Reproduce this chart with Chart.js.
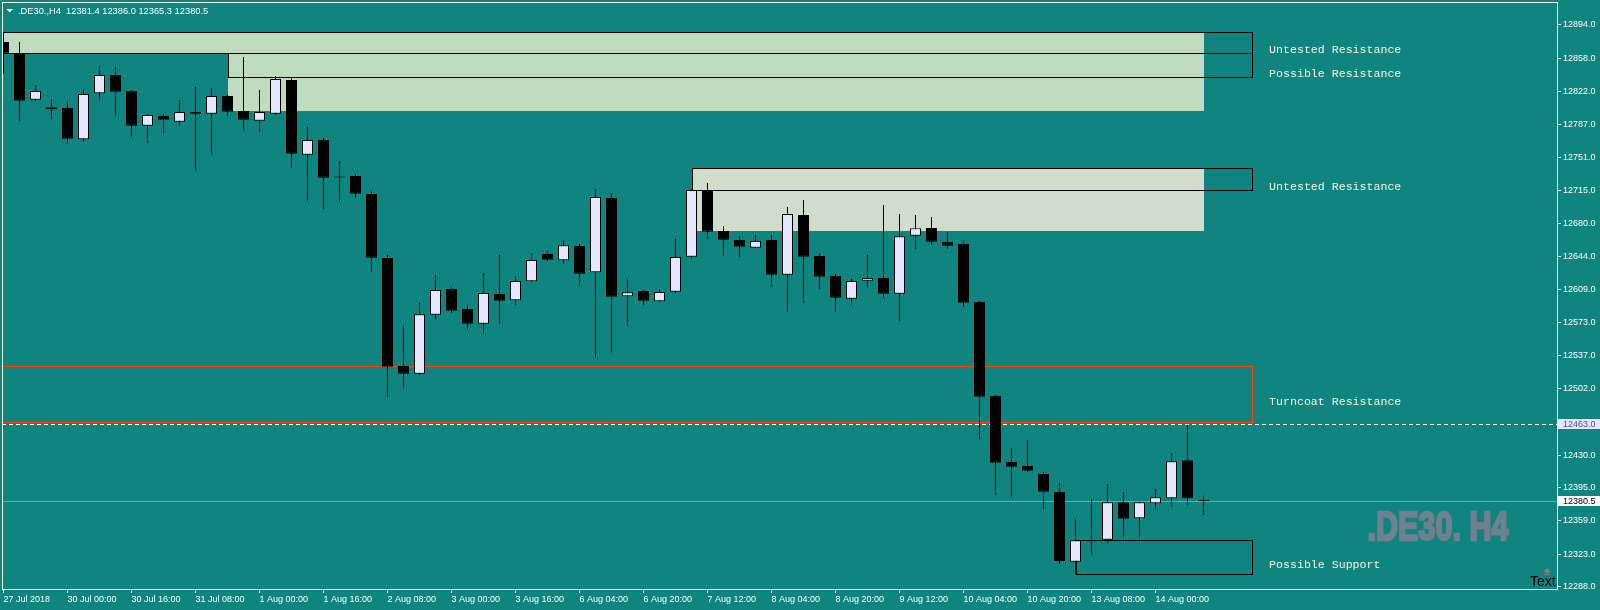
<!DOCTYPE html>
<html>
<head>
<meta charset="utf-8">
<script src="https://cdn.jsdelivr.net/npm/chart.js@4.4.1/dist/chart.umd.min.js"></script>
<style>
html, body { margin: 0; padding: 0; background: #10847e; overflow: hidden; }
canvas { display: block; }
</style>
</head>
<body>
<canvas id="grafica" width="1600" height="610"></canvas>
<script>
// 1. Datos de las velas (.DE30., H4)
const aperturas = [12875.7, 12863.5, 12813.4, 12803.1, 12804.5, 12770.7, 12820.3, 12840.1, 12822.8, 12785.4,
    12795.8, 12789.7, 12800.1, 12798.3, 12817.4, 12801.2, 12790.8, 12798.3, 12834.7, 12754.1,
    12769.9, 12729.9, 12731.1, 12711.7, 12642.6, 12526.1, 12517.8, 12581.5, 12609.2, 12587.6,
    12571.7, 12603.8, 12597.0, 12617.5, 12646.9, 12640.1, 12655.6, 12627.2, 12707.4, 12601.3,
    12607.0, 12595.9, 12606.3, 12644.0, 12716.0, 12671.8, 12662.0, 12653.7, 12662.0, 12624.6,
    12689.0, 12644.8, 12623.2, 12598.7, 12618.1, 12621.0, 12604.1, 12666.7, 12675.0, 12659.9,
    12657.7, 12595.2, 12493.7, 12422.5, 12418.2, 12409.6, 12390.2, 12315.0, 12338.1, 12338.7,
    12379.0, 12361.8, 12378.0, 12383.4, 12424.4, 12381.4];
const maximos = [12886.8, 12875.7, 12829.3, 12814.2, 12810.9, 12825.0, 12849.8, 12848.7, 12823.9, 12798.0,
    12798.0, 12813.1, 12827.1, 12826.0, 12818.5, 12859.5, 12823.9, 12839.0, 12836.8, 12784.0,
    12772.1, 12747.3, 12733.3, 12716.0, 12645.9, 12569.3, 12594.1, 12624.3, 12612.4, 12591.9,
    12626.4, 12645.9, 12623.2, 12648.0, 12651.3, 12662.0, 12657.7, 12717.1, 12712.8, 12621.0,
    12608.1, 12609.2, 12663.1, 12716.5, 12723.5, 12677.2, 12666.4, 12667.4, 12667.4, 12697.6,
    12705.2, 12648.0, 12625.4, 12620.0, 12645.9, 12699.8, 12690.1, 12689.0, 12686.9, 12670.7,
    12662.0, 12596.2, 12494.8, 12437.6, 12446.3, 12411.8, 12399.9, 12362.1, 12382.6, 12398.8,
    12390.2, 12379.5, 12393.4, 12432.2, 12463.0, 12386.0];
const minimos = [12841.9, 12790.8, 12812.3, 12792.9, 12765.9, 12768.1, 12813.4, 12796.1, 12772.4, 12767.0,
    12777.8, 12785.4, 12736.8, 12754.1, 12795.8, 12780.0, 12778.9, 12797.5, 12740.0, 12703.4,
    12695.8, 12703.4, 12707.7, 12627.8, 12493.0, 12502.7, 12516.7, 12577.1, 12583.6, 12565.3,
    12561.0, 12571.7, 12592.2, 12617.1, 12639.7, 12636.5, 12612.7, 12535.1, 12539.4, 12569.3,
    12592.2, 12595.5, 12605.2, 12643.0, 12663.5, 12645.1, 12644.0, 12653.3, 12611.7, 12584.7,
    12594.4, 12609.5, 12584.7, 12591.2, 12610.6, 12598.7, 12575.0, 12652.7, 12657.0, 12652.7,
    12590.1, 12447.7, 12387.3, 12384.0, 12412.1, 12372.2, 12312.8, 12301.4, 12322.5, 12334.4,
    12340.9, 12340.9, 12371.1, 12374.3, 12376.5, 12365.3];
const cierres = [12863.5, 12812.3, 12822.8, 12805.2, 12771.3, 12819.6, 12840.1, 12822.0, 12785.4, 12796.9,
    12791.8, 12800.1, 12798.3, 12817.4, 12800.5, 12791.8, 12800.1, 12835.7, 12755.2, 12769.9,
    12729.3, 12729.5, 12712.0, 12643.0, 12525.4, 12517.8, 12581.9, 12608.1, 12585.8, 12571.7,
    12604.9, 12596.6, 12617.8, 12640.5, 12640.8, 12656.3, 12625.7, 12708.4, 12600.9, 12605.6,
    12596.6, 12605.9, 12643.7, 12716.0, 12671.0, 12662.4, 12654.8, 12661.0, 12624.6, 12690.1,
    12644.0, 12622.5, 12599.8, 12617.8, 12621.0, 12604.1, 12666.0, 12674.7, 12660.2, 12655.9,
    12594.4, 12493.0, 12421.8, 12417.5, 12413.2, 12390.5, 12315.7, 12338.1, 12336.9, 12379.0,
    12361.4, 12379.0, 12384.4, 12423.3, 12383.4, 12380.5];

// Etiquetas del eje de tiempo (una cada 4 velas)
const etiquetasX = ['27 Jul 2018', '30 Jul 00:00', '30 Jul 16:00', '31 Jul 08:00', '1 Aug 00:00', '1 Aug 16:00',
    '2 Aug 08:00', '3 Aug 00:00', '3 Aug 16:00', '6 Aug 04:00', '6 Aug 20:00', '7 Aug 12:00', '8 Aug 04:00',
    '8 Aug 20:00', '9 Aug 12:00', '10 Aug 04:00', '10 Aug 20:00', '13 Aug 08:00', '14 Aug 00:00'];
const pasoEtiquetas = 4;

// Marcas del eje de precios
const ticksY = [12894, 12858, 12822, 12787, 12751, 12715, 12680, 12644, 12609, 12573, 12537, 12502,
    12430, 12395, 12359, 12323, 12288];

// Zonas (índice de vela inicial/final y precios)
const zonasRelleno = [
    { ini: -1, fin: 75, sup: 12886.8, inf: 12863.3 },
    { ini: 14, fin: 75, sup: 12863.3, inf: 12801.5 },
    { ini: 43, fin: 75, sup: 12739.4, inf: 12671.8 }
];
const zonasMarco = [
    { ini: -1, fin: 78, sup: 12886.8, inf: 12863.3 },
    { ini: 14, fin: 78, sup: 12863.3, inf: 12837.6 },
    { ini: 43, fin: 78, sup: 12739.4, inf: 12715.7 },
    { ini: -1, fin: 78, sup: 12526.1, inf: 12465.4 },
    { ini: 67, fin: 78, sup: 12338.1, inf: 12301.4 }
];
const textosZonas = ['Untested Resistance', 'Possible Resistance', 'Untested Resistance', 'Turncoat Resistance', 'Possible Support'];
const preciosTextos = [12867.0, 12841.1, 12719.5, 12487.3, 12311.4];
const velaTextos = 79.1;

const nivelDiscontinuo = 12463.0;
const simbolo = '.DE30.,H4';
const marcaAgua = '.DE30. H4';

// Rango visible
const xMin = -0.09375, xMax = 97.09375;
const yMin = 12285.5, yMax = 12918.8;

// Estilos
const COLOR_FONDO = '#10847e';
const COLOR_ALCISTA = '#e6e6fa';
const COLOR_BAJISTA = '#000000';
const coloresRelleno = ['#c0dcc0', '#c0dcc0', '#d2dccc'];
const coloresMarco = ['#000000', '#000000', '#000000', '#ff4500', '#000000'];

Chart.defaults.font.family = '"Liberation Sans", Arial, sans-serif';

// 2. Plugin para fondo, zonas, líneas y textos
const pluginGrafico = {
    id: 'grafico',
    beforeDraw(chart) {
        const ctx = chart.ctx;
        ctx.save();
        ctx.fillStyle = COLOR_FONDO;
        ctx.fillRect(0, 0, chart.width, chart.height);
        ctx.restore();
    },
    beforeDatasetsDraw(chart) {
        const { ctx, chartArea: a, scales: { x, y } } = chart;
        ctx.save();
        ctx.beginPath();
        ctx.rect(a.left + 1, a.top + 1, a.right - a.left - 1, a.bottom - a.top - 1);
        ctx.clip();

        zonasRelleno.forEach((z, k) => {
            const x0 = Math.round(x.getPixelForValue(z.ini));
            const x1 = Math.round(x.getPixelForValue(z.fin));
            const y0 = Math.round(y.getPixelForValue(z.sup));
            const y1 = Math.round(y.getPixelForValue(z.inf));
            ctx.fillStyle = coloresRelleno[k];
            ctx.fillRect(x0, y0, x1 - x0, y1 - y0);
        });

        ctx.lineWidth = 1;
        zonasMarco.forEach((z, k) => {
            const x0 = Math.round(x.getPixelForValue(z.ini));
            const x1 = Math.round(x.getPixelForValue(z.fin));
            const y0 = Math.round(y.getPixelForValue(z.sup));
            const y1 = Math.round(y.getPixelForValue(z.inf));
            ctx.strokeStyle = coloresMarco[k];
            ctx.strokeRect(x0 + 0.5, y0 + 0.5, x1 - x0, y1 - y0);
        });

        // línea discontinua del nivel
        const yd = Math.round(y.getPixelForValue(nivelDiscontinuo)) + 0.5;
        ctx.strokeStyle = '#ffffff';
        ctx.setLineDash([4, 3]);
        ctx.beginPath();
        ctx.moveTo(a.left, yd);
        ctx.lineTo(a.right, yd);
        ctx.stroke();
        ctx.setLineDash([]);

        // línea del precio actual
        const yb = Math.round(y.getPixelForValue(cierres[cierres.length - 1])) + 0.5;
        ctx.strokeStyle = '#64aeac';
        ctx.beginPath();
        ctx.moveTo(a.left, yb);
        ctx.lineTo(a.right, yb);
        ctx.stroke();
        ctx.restore();
    },
    afterDraw(chart) {
        const { ctx, chartArea: a, scales: { x, y } } = chart;
        ctx.save();

        // marco blanco
        ctx.strokeStyle = '#ffffff';
        ctx.lineWidth = 1;
        ctx.strokeRect(a.left + 0.5, a.top + 0.5, a.right - a.left, a.bottom - a.top);

        // cabecera
        const n = cierres.length - 1;
        ctx.fillStyle = '#ffffff';
        ctx.beginPath();
        ctx.moveTo(6.5, 9); ctx.lineTo(13, 9); ctx.lineTo(9.75, 12.5); ctx.closePath();
        ctx.fill();
        ctx.font = '9.3px "Liberation Sans", Arial, sans-serif';
        ctx.textBaseline = 'middle';
        ctx.textAlign = 'left';
        const cabecera = simbolo + '  ' + [aperturas[n], maximos[n], minimos[n], cierres[n]].map(v => v.toFixed(1)).join(' ');
        ctx.fillText(cabecera, 18, 11);

        // textos de zonas
        ctx.font = '11.6px "Liberation Mono", "Courier New", monospace';
        ctx.fillStyle = '#f4f4e6';
        const xt = x.getPixelForValue(velaTextos);
        textosZonas.forEach((t, k) => {
            ctx.fillText(t, xt, Math.round(y.getPixelForValue(preciosTextos[k])));
        });

        // marca de agua (condensada y gruesa)
        ctx.font = 'bold 41px "Liberation Sans", Arial, sans-serif';
        ctx.fillStyle = '#708090';
        ctx.strokeStyle = '#708090';
        ctx.lineWidth = 2.5;
        ctx.lineJoin = 'miter';
        ctx.textBaseline = 'alphabetic';
        const ancho = ctx.measureText(marcaAgua).width;
        ctx.save();
        ctx.translate(1367.5, 539.8);
        ctx.scale(141 / ancho, 1);
        ctx.fillText(marcaAgua, 0, 0);
        ctx.strokeText(marcaAgua, 0, 0);
        ctx.restore();

        // objeto "Text"
        ctx.fillStyle = '#7f7f7f';
        ctx.beginPath();
        ctx.arc(1547, 571, 2.5, 0, Math.PI * 2);
        ctx.fill();
        ctx.fillRect(1544, 574, 6, 1);
        ctx.fillStyle = '#000000';
        ctx.font = '14px "Liberation Sans", Arial, sans-serif';
        ctx.fillText('Text', 1530, 586);

        // etiquetas de precio en el eje
        ctx.font = '9px "Liberation Sans", Arial, sans-serif';
        ctx.textBaseline = 'middle';
        const etiquetaPrecio = (valor, fondo, texto) => {
            const yc = Math.round(y.getPixelForValue(valor));
            ctx.fillStyle = fondo;
            ctx.fillRect(a.right + 1, yc - 5, chart.width - a.right - 1, 10);
            ctx.fillStyle = texto;
            ctx.fillText(valor.toFixed(1), a.right + 6, yc + 0.5);
        };
        etiquetaPrecio(nivelDiscontinuo, '#e6e6fa', '#4b5580');
        etiquetaPrecio(cierres[n], '#ffffff', '#000000');
        ctx.restore();
    }
};

// 3. Construcción de la gráfica
const velas = aperturas.map((o, i) => ({ x: i, y: [o, cierres[i]] }));
const mechas = minimos.map((l, i) => ({ x: i, y: [l, maximos[i]] }));
const coloresCuerpo = aperturas.map((o, i) => cierres[i] >= o ? COLOR_ALCISTA : COLOR_BAJISTA);

const ejeComun = {
    grid: { offset: false, drawOnChartArea: false, drawTicks: true, tickLength: 4, color: '#ffffff', lineWidth: 1 },
    border: { display: false }
};

new Chart(document.getElementById('grafica').getContext('2d'), {
    type: 'bar',
    data: {
        datasets: [
            { label: 'mechas', data: mechas, backgroundColor: '#000000', borderWidth: 0, barThickness: 1,
              grouped: false, inflateAmount: 0, order: 2 },
            { label: 'velas', data: velas, backgroundColor: coloresCuerpo, borderColor: '#000000', borderWidth: 1,
              borderSkipped: false, barThickness: 11, grouped: false, minBarLength: 1, inflateAmount: 0, order: 1 }
        ]
    },
    options: {
        responsive: false,
        animation: false,
        devicePixelRatio: 1,
        layout: { padding: { left: 2, top: 2, right: 0, bottom: 0 } },
        plugins: { legend: { display: false }, tooltip: { enabled: false } },
        events: [],
        scales: {
            x: {
                ...ejeComun,
                type: 'linear', min: xMin, max: xMax, offset: false,
                ticks: {
                    color: '#ffffff', font: { size: 9 }, padding: 1, align: 'start',
                    autoSkip: false, maxRotation: 0, minRotation: 0,
                    callback: (v) => etiquetasX[Math.round(v / pasoEtiquetas)] ?? ''
                },
                afterBuildTicks: (s) => { s.ticks = etiquetasX.map((_, k) => ({ value: k * pasoEtiquetas })); },
                afterFit: (s) => { s.height = 21; s.paddingLeft = 0; s.paddingRight = 0; }
            },
            y: {
                ...ejeComun,
                type: 'linear', position: 'right', min: yMin, max: yMax,
                ticks: { color: '#ffffff', font: { size: 9 }, padding: 2, autoSkip: false, callback: (v) => v.toFixed(1) },
                afterBuildTicks: (s) => { s.ticks = ticksY.map(v => ({ value: v })); },
                afterFit: (s) => { s.width = 43; s.paddingTop = 0; s.paddingBottom = 0; }
            }
        }
    },
    plugins: [pluginGrafico]
});
</script>
</body>
</html>
